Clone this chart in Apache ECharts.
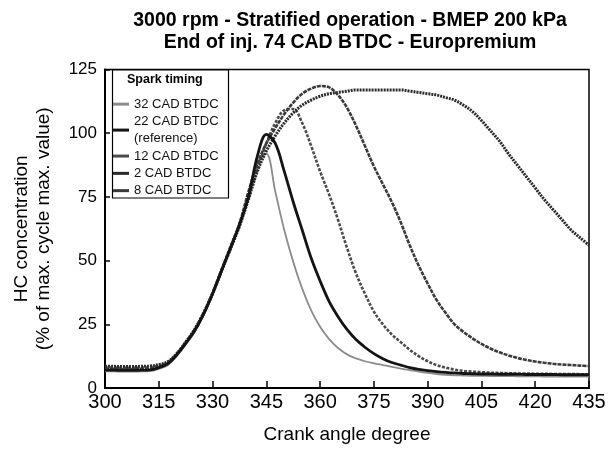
<!DOCTYPE html>
<html><head><meta charset="utf-8">
<script src="https://cdn.jsdelivr.net/npm/echarts@6/dist/echarts.min.js"></script>
<style>html,body{margin:0;padding:0;background:#fff}#c{width:610px;height:449px}</style>
</head><body><div id="c"></div>
<script>
const angles = [300,302.5,305,307.5,310,312.5,315,317.5,320,322.5,325,327.5,330,332.5,335,337.5,340,342.5,345,347.5,350,352.5,355,357.5,360,362.5,365,367.5,370,372.5,375,377.5,380,382.5,385,387.5,390,392.5,395,397.5,400,402.5,405,407.5,410,412.5,415,417.5,420,422.5,425,427.5,430,432.5,435];
const seriesNames = ['32 CAD BTDC','22 CAD BTDC','12 CAD BTDC','2 CAD BTDC','8 CAD BTDC'];
const cad32 = [6.5,6.5,6.4,6.4,6.5,6.6,7.5,9,12.5,17,22,28.5,36.5,45.5,54.5,63.5,74,88,92,77,62,49.5,39,30.5,24,19.2,15.7,13.2,11.6,10.5,9.7,9,8.3,7.6,7,6.4,5.9,5.5,5.2,5,4.9,4.8,4.8,4.7,4.7,4.7,4.6,4.6,4.6,4.5,4.5,4.5,4.5,4.5,4.5];
const cad22 = [7,7,6.9,6.9,7,7.1,8,9.5,13,17.5,22.5,29,37,46,55,64,75,91,99.5,96,85,73,62,51,42,34,28,23,19,16,13.5,11.5,10,9,8,7.3,6.8,6.4,6.1,5.9,5.7,5.6,5.5,5.5,5.4,5.4,5.4,5.3,5.3,5.3,5.3,5.2,5.2,5.2,5.2];
const cad12 = [8,8,7.9,7.9,8,8.1,8.8,10,13.5,18,23,29.5,37.5,46.5,55.5,64.5,75,86,96,104,109,109.5,104,95,85,76,66,55,45,37,30,25,21,18,15,12.5,10.5,9,8,7.2,6.7,6.4,6.2,6,5.9,5.8,5.7,5.7,5.6,5.6,5.5,5.5,5.5,5.4,5.4];
const cad2 = [8.5,8.5,8.4,8.4,8.5,8.6,9.2,10.3,13.5,18,23,29.5,37,46,54.5,63.5,74,85,93,99,104,108,111,113,114.5,115.5,116,116.5,117,117,117,117,117,117,116.5,116,115.5,115,114,113,111,108.5,105,101,97,92,87.5,83,78.5,74,70,66,62,59,56];
const cad8 = [7.5,7.5,7.4,7.4,7.5,7.6,8.3,9.7,13,17.5,22.5,29,37,46,55,64.5,77,88,96,102,107.5,112,115.5,117.5,118.5,118,115,110,103,95,87,80,73,65,56,48,41,34.5,29.5,25,22,19.5,17.3,15.5,14,12.8,11.8,11,10.4,9.9,9.5,9.2,9,8.8,8.6];
const xTicks = [300,315,330,345,360,375,390,405,420,435];
const yTicks = [0,25,50,75,100,125];

const valuesList = [cad32, cad22, cad12, cad2, cad8];
const styles = [
  {color:'#8c8c8c', width:1.8, type:'solid'},
  {color:'#141414', width:2.8, type:'solid'},
  {color:'#4a4a4a', width:2.6, type:[3,1.5]},
  {color:'#2a2a2a', width:3, type:[2,1]},
  {color:'#3a3a3a', width:2.6, type:[4,1]}
];
const font = 'Liberation Sans, Arial, sans-serif';
const chart = echarts.init(document.getElementById('c'));
const series = seriesNames.map((n,i)=>({
  name:n, type:'line', symbol:'none', smooth:0.35,
  lineStyle:styles[i], itemStyle:{color:styles[i].color},
  data: angles.map((a,j)=>[a, valuesList[i][j]]),
  z: i===1 ? 5 : 3
}));
chart.setOption({
  animation:false,
  backgroundColor:'#fff',
  title:{
    text:'3000 rpm - Stratified operation - BMEP 200 kPa\nEnd of inj. 74 CAD BTDC - Europremium',
    left:345, top:5, textAlign:'center',
    textStyle:{fontFamily:font, fontWeight:'bold', fontSize:19.5, lineHeight:22, color:'#000'}
  },
  grid:{left:105, right:21, top:69.5, bottom:55, show:true, borderColor:'#000', borderWidth:1.5, backgroundColor:'transparent'},
  xAxis:{
    type:'value', min:300, max:435, interval:15,
    name:'Crank angle degree', nameLocation:'middle', nameGap:37,
    nameTextStyle:{fontFamily:font, fontSize:19, color:'#000'},
    axisLine:{lineStyle:{color:'#000', width:2}},
    axisTick:{inside:true, length:7, lineStyle:{color:'#000', width:1.5}},
    axisLabel:{fontFamily:font, fontSize:20, color:'#000', margin:4, customValues:xTicks},
    splitLine:{show:false}
  },
  yAxis:{
    type:'value', min:0, max:125, interval:25,
    name:'HC concentration\n(% of max. cycle max. value)', nameLocation:'middle', nameGap:50,
    nameTextStyle:{fontFamily:font, fontSize:19, color:'#000', lineHeight:22},
    axisLine:{lineStyle:{color:'#000', width:2}},
    axisTick:{inside:true, length:5, lineStyle:{color:'#000', width:1.5}},
    axisLabel:{fontFamily:font, fontSize:17, color:'#000', margin:8},
    splitLine:{show:false}
  },
  legend:{
    orient:'vertical', left:113, top:95.5, padding:0, itemWidth:16, itemHeight:3, itemGap:0,
    icon:'rect',
    data:seriesNames,
    textStyle:{fontFamily:font, fontSize:13, color:'#111', lineHeight:17.3},
    formatter: n => n==='22 CAD BTDC' ? '22 CAD BTDC\n(reference)' : n
  },
  graphic:[
    {type:'rect', shape:{x:112.5, y:70, width:116, height:128}, style:{fill:'#fff', stroke:'#000', lineWidth:1.2}, z:1},
    {type:'text', left:127, top:73, style:{text:'Spark timing', font:'bold 12.5px Liberation Sans, Arial, sans-serif', fill:'#000'}, z:2}
  ],
  series: series
});
</script></body></html>
